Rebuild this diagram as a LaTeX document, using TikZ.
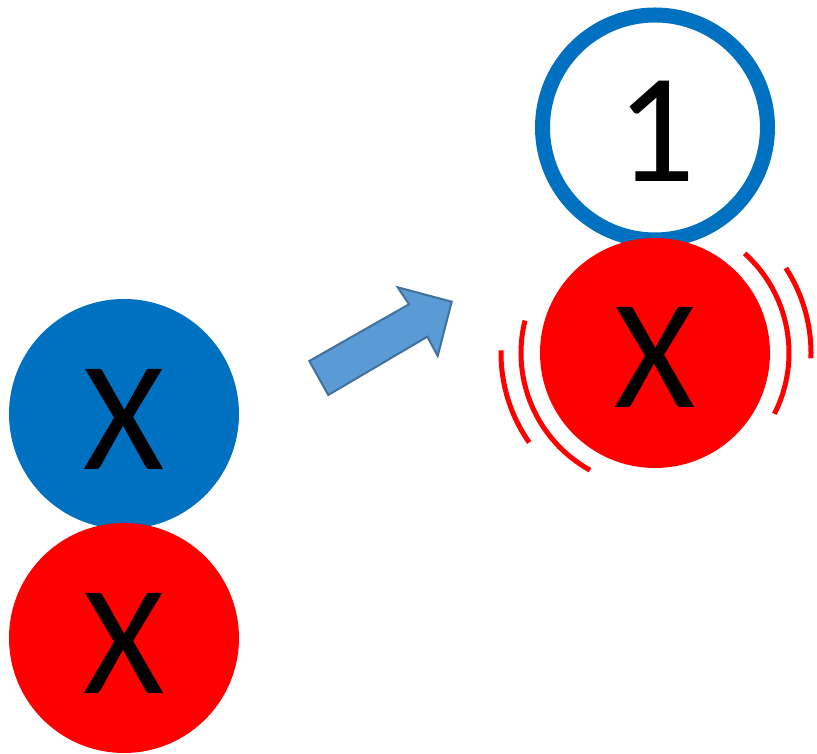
\documentclass[tikz,border=0pt]{standalone}
\usepackage{fontspec}
\setmainfont{Carlito}
\definecolor{cblue}{HTML}{0070C0}
\definecolor{cred}{HTML}{FF0000}
\definecolor{afill}{HTML}{5B9BD5}
\definecolor{aline}{HTML}{41719C}
\begin{document}
\begin{tikzpicture}[x=1pt,y=1pt,
  ball/.style={circle,minimum size=230pt,inner sep=0pt},
  lbl/.style={inner sep=0pt,font=\fontsize{156}{156}\selectfont},
  wave/.style={draw=cred,line width=5pt}]
\useasboundingbox (0,0) rectangle (817,754);
% left pair
\node[ball,fill=cblue] (b1) at (124,340) {};
\node[ball,fill=cred] (r1) at (124,116) {};
\node[lbl] (tb1) at (124,335) {X};
\node[lbl] (tr1) at (124,111) {X};
% ring with 1
\node[circle,minimum size=225pt,inner sep=0pt,draw=cblue,line width=15pt,fill=white] (ring) at (655,626.5) {};
\node[lbl] (t1) at (656,622.5) {1};
% red excited ball
\node[ball,fill=cred] (r2) at (655,401) {};
\node[lbl] (tr2) at (655,397) {X};
% vibration arcs
\draw[wave] ([shift={(48:134pt)}]r2.center) arc[start angle=48,end angle=-27,radius=134pt];
\draw[wave] ([shift={(33:156pt)}]r2.center) arc[start angle=33,end angle=-2,radius=156pt];
\draw[wave] ([shift={(166:134pt)}]r2.center) arc[start angle=166,end angle=241,radius=134pt];
\draw[wave] ([shift={(179:154pt)}]r2.center) arc[start angle=179,end angle=215,radius=156pt];
% block arrow
\draw[fill=afill,draw=aline,line width=2pt,line join=miter]
  (309.3,393) -- (328.3,359) -- (427.3,417.3) -- (437.7,398) -- (451.7,452.3)
  -- (397.7,466.7) -- (409,449.7) -- cycle;
\end{tikzpicture}
\end{document}
